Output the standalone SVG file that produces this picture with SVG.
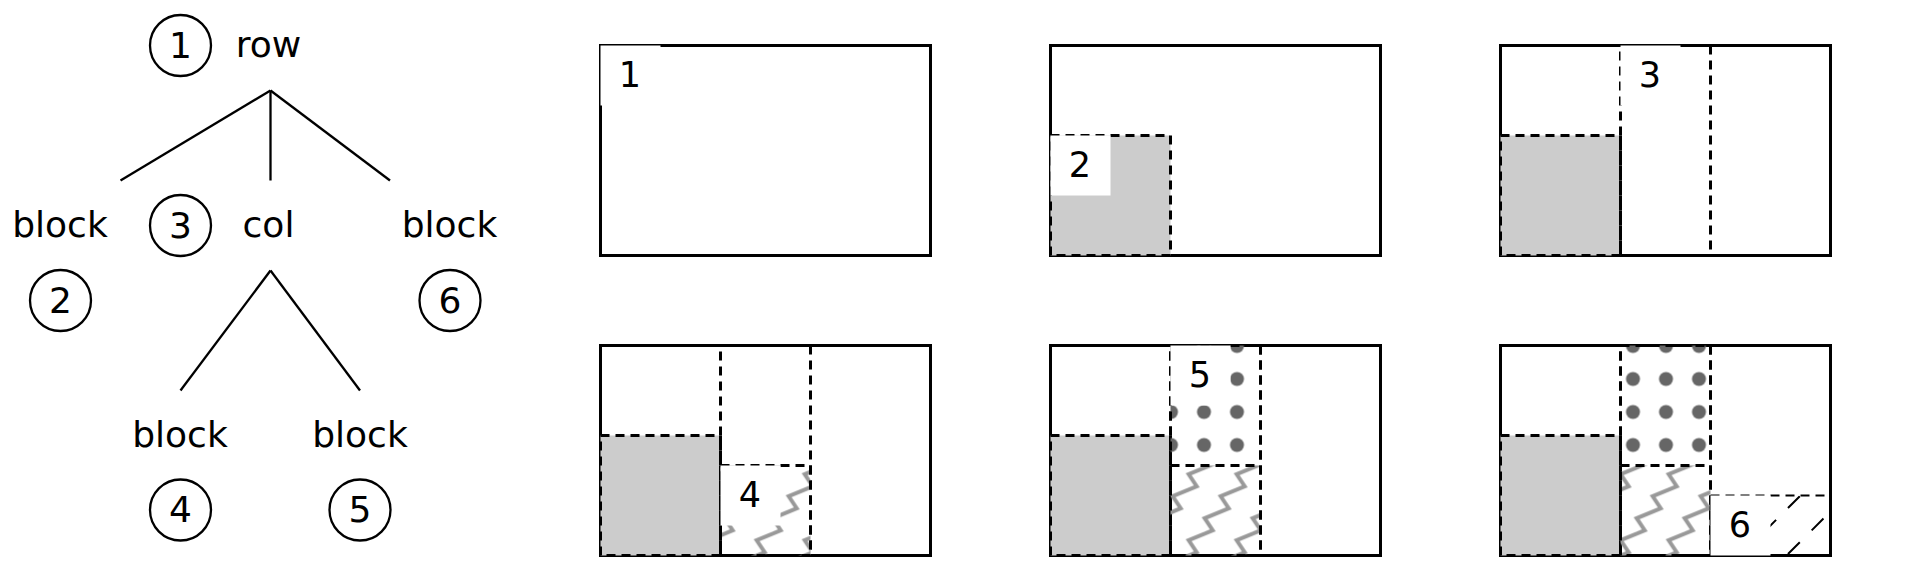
<svg xmlns="http://www.w3.org/2000/svg" width="1909" height="571" viewBox="0 0 1909 571">
<style>
.t{font-family:"DejaVu Sans","Liberation Sans",sans-serif;font-size:36px;fill:#000;text-anchor:middle}
.n{font-family:"DejaVu Sans","Liberation Sans",sans-serif;font-size:36px;fill:#000;text-anchor:middle}
.lbl{font-family:"DejaVu Sans","Liberation Sans",sans-serif;font-size:35px;fill:#000;text-anchor:middle}
.c{fill:none;stroke:#000;stroke-width:2.3}
.e{stroke:#000;stroke-width:2.3;fill:none}
.frame{fill:#fff;stroke:#000;stroke-width:3}
.dash{fill:none;stroke:#000;stroke-width:3;stroke-dasharray:9 6}
.gray{fill:#ccc}
.lb{fill:#fff}
.zz{fill:none;stroke:#999;stroke-width:4}
</style>
<defs>
<pattern id="dots5" patternUnits="userSpaceOnUse" x="1154.5" y="329.5" width="33" height="33"><circle cx="16.5" cy="16.5" r="7" fill="#666"/></pattern>
<pattern id="dots6" patternUnits="userSpaceOnUse" x="1616.5" y="329.5" width="33" height="33"><circle cx="16.5" cy="16.5" r="7" fill="#666"/></pattern>
<pattern id="zig" patternUnits="userSpaceOnUse" x="4.7" y="56.3" width="48" height="66">
<path id="zc" class="zz" d="M-48,132 L-24,122 L-32,110 L-8,100 L-16,88 L8,78 L0,66 L24,56 L16,44 L40,34 L32,22 L56,12 L48,0 L72,-10 L64,-22 L88,-32 L80,-44"/>
<use href="#zc" x="-48"/>
<use href="#zc" x="48"/>
</pattern>
<clipPath id="b6clip"><rect x="1710.5" y="495.5" width="120" height="60"/></clipPath>
</defs>

<g id="connectors">
<line class="e" x1="270.5" y1="90.5" x2="120.5" y2="180.5"/>
<line class="e" x1="270.5" y1="90.5" x2="270.5" y2="180.5"/>
<line class="e" x1="270.5" y1="90.5" x2="390" y2="180.5"/>
<line class="e" x1="270.5" y1="270.5" x2="180.5" y2="390.5"/>
<line class="e" x1="270.5" y1="270.5" x2="360" y2="390.5"/>
</g>

<g id="node-row">
<circle class="c" cx="180.5" cy="45.5" r="30.5"/>
<text class="n" x="180.5" y="57.5">1</text>
<text class="t" x="268.5" y="56.5">row</text>
</g>
<g id="node-block2">
<text class="t" x="60" y="236.5">block</text>
<circle class="c" cx="60.5" cy="300.5" r="30.5"/>
<text class="n" x="60.5" y="312.5">2</text>
</g>
<g id="node-col">
<circle class="c" cx="180.5" cy="225.5" r="30.5"/>
<text class="n" x="180.5" y="237.5">3</text>
<text class="t" x="268.5" y="236.5">col</text>
</g>
<g id="node-block6">
<text class="t" x="449.5" y="236.5">block</text>
<circle class="c" cx="450" cy="300.5" r="30.5"/>
<text class="n" x="450" y="312.5">6</text>
</g>
<g id="node-block4">
<text class="t" x="180" y="447">block</text>
<circle class="c" cx="180.5" cy="510" r="30.5"/>
<text class="n" x="180.5" y="522">4</text>
</g>
<g id="node-block5">
<text class="t" x="360" y="447">block</text>
<circle class="c" cx="360" cy="510" r="30.5"/>
<text class="n" x="360" y="522">5</text>
</g>

<g id="panel-1">
<rect class="frame" x="600.5" y="45.5" width="330" height="210"/>
<rect class="lb" x="600.5" y="45.5" width="60" height="60"/>
<text class="lbl" x="630" y="87">1</text>
</g>

<g id="panel-2">
<rect class="frame" x="1050.5" y="45.5" width="330" height="210"/>
<rect class="gray" x="1050.5" y="135.5" width="120" height="120"/>
<rect class="dash" x="1050.5" y="135.5" width="120" height="120"/>
<rect class="lb" x="1050.5" y="135.5" width="60" height="60"/>
<text class="lbl" x="1080" y="177">2</text>
</g>

<g id="panel-3">
<rect class="frame" x="1500.5" y="45.5" width="330" height="210"/>
<rect class="gray" x="1500.5" y="135.5" width="120" height="120"/>
<rect class="dash" x="1500.5" y="135.5" width="120" height="120"/>
<rect class="dash" x="1620.5" y="45.5" width="90" height="210"/>
<rect class="lb" x="1620.5" y="45.5" width="60" height="60"/>
<text class="lbl" x="1650" y="87">3</text>
</g>

<g id="panel-4">
<rect class="frame" x="600.5" y="345.5" width="330" height="210"/>
<rect class="gray" x="600.5" y="435.5" width="120" height="120"/>
<rect class="dash" x="600.5" y="435.5" width="120" height="120"/>
<rect class="dash" x="720.5" y="345.5" width="90" height="210"/>
<rect fill="url(#zig)" x="720.5" y="465.5" width="90" height="90"/>
<rect class="dash" x="720.5" y="465.5" width="90" height="90"/>
<rect class="lb" x="720.5" y="465.5" width="60" height="60"/>
<text class="lbl" x="750" y="507">4</text>
</g>

<g id="panel-5">
<rect class="frame" x="1050.5" y="345.5" width="330" height="210"/>
<rect class="gray" x="1050.5" y="435.5" width="120" height="120"/>
<rect class="dash" x="1050.5" y="435.5" width="120" height="120"/>
<rect class="dash" x="1170.5" y="345.5" width="90" height="210"/>
<rect fill="url(#zig)" x="1170.5" y="465.5" width="90" height="90"/>
<rect fill="url(#dots5)" x="1170.5" y="345.5" width="90" height="120"/>
<rect class="dash" x="1170.5" y="465.5" width="90" height="90"/>
<path class="dash" d="M1170.5,465.5 V345.5 H1260.5 V465.5"/>
<rect class="lb" x="1170.5" y="345.5" width="60" height="60"/>
<text class="lbl" x="1200" y="387">5</text>
</g>

<g id="panel-6">
<rect class="frame" x="1500.5" y="345.5" width="330" height="210"/>
<rect class="gray" x="1500.5" y="435.5" width="120" height="120"/>
<rect class="dash" x="1500.5" y="435.5" width="120" height="120"/>
<rect class="dash" x="1620.5" y="345.5" width="90" height="210"/>
<rect fill="url(#zig)" x="1620.5" y="465.5" width="90" height="90"/>
<rect fill="url(#dots6)" x="1620.5" y="345.5" width="90" height="120"/>
<rect class="dash" x="1620.5" y="465.5" width="90" height="90"/>
<path class="dash" d="M1620.5,465.5 V345.5 H1710.5 V465.5"/>
<g clip-path="url(#b6clip)" stroke="#000" stroke-width="2" stroke-dasharray="16.7 16.8" fill="none">
<line x1="1740.6" y1="555.4" x2="1850" y2="446"/>
<line x1="1740.6" y1="601.4" x2="1850" y2="492"/>
</g>
<rect class="dash" x="1710.5" y="495.5" width="120" height="60" style="stroke-width:2"/>
<rect class="lb" x="1710.5" y="495.5" width="60" height="60"/>
<text class="lbl" x="1740" y="537">6</text>
</g>
</svg>
